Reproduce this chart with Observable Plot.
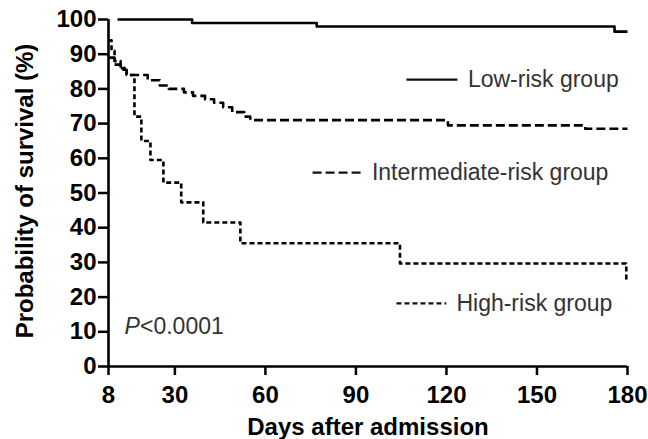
<!DOCTYPE html>
<html>
<head>
<meta charset="utf-8">
<script src="https://cdn.jsdelivr.net/npm/d3@7"></script>
<script src="https://cdn.jsdelivr.net/npm/@observablehq/plot@0.6"></script>
<style>
  html, body { margin: 0; padding: 0; background: #fff; }
  #chart { width: 648px; height: 439px; }
</style>
</head>
<body>
<div id="chart"></div>
<script>
// ---- Data ----
const xTicks = [8, 30, 60, 90, 120, 150, 180];
const yTicks = [0, 10, 20, 30, 40, 50, 60, 70, 80, 90, 100];

const lowDays = [11, 35.7, 77, 175.7, 180];
const lowSurv = [100, 99, 98, 96.5, 96.5];

const midDays = [8, 10, 12, 14, 21, 25, 28, 33, 36, 40, 43, 46, 49, 53, 55, 120.5, 166, 180];
const midSurv = [89, 87, 85.5, 84, 82.5, 81, 80, 79, 78, 77, 76, 74.7, 73.3, 72, 71, 69.5, 68.5, 68.5];

const highDays = [8, 9, 10, 12, 14, 16.6, 18.9, 21.9, 26.2, 32.1, 39.4, 51.7, 104.6, 179.6];
const highSurv = [94, 91, 88, 86, 84, 72, 65, 59.5, 53, 47.3, 41.5, 35.5, 29.7, 24.3];

const groupNames = ["Low-risk group", "Intermediate-risk group", "High-risk group"];
const pText = ["P", "<0.0001"];

// ---- Layout / style constants ----
const dashes = [null, "9,4", "5,3"];
const legendLayout = [
  {x1: 106.9, x2: 123.8, y: 82.7, tx: 127.1},
  {x1: 75.8,  x2: 93.0,  y: 55.9, tx: 95.3},
  {x1: 103.6, x2: 120.1, y: 18.2, tx: 123.3}
];

const toRows = (days, surv) => days.map((d, i) => ({day: d, surv: surv[i]}));
const series = [toRows(lowDays, lowSurv), toRows(midDays, midSurv), toRows(highDays, highSurv)];
const legendRows = groupNames.map((name, i) => ({name, dash: dashes[i], ...legendLayout[i]}));

const font = "'Liberation Sans', Arial, Helvetica, sans-serif";

const curveMarks = series.map((rows, i) =>
  Plot.line(rows, {x: "day", y: "surv", curve: "step-after", stroke: "#000",
    strokeWidth: 2.6, strokeDasharray: dashes[i] || undefined, strokeLinecap: "butt"}));

const legendMarks = legendRows.flatMap(r => [
  Plot.ruleY([r], {y: "y", x1: "x1", x2: "x2", stroke: "#111", strokeWidth: 2.2,
    strokeDasharray: r.dash || undefined}),
  Plot.text([r], {x: "tx", y: "y", text: "name", textAnchor: "start", lineAnchor: "middle",
    fontSize: 23, fontWeight: "normal", fill: "#333", fontFamily: font})
]);

const chart = Plot.plot({
  width: 648,
  height: 439,
  marginLeft: 108,
  marginRight: 21,
  marginTop: 19,
  marginBottom: 73,
  style: {fontFamily: font, background: "#fff", color: "#000", overflow: "visible"},
  x: {domain: [8, 180]},
  y: {domain: [0, 100]},
  marks: [
    Plot.axisX({ticks: xTicks, tickSize: 9, tickPadding: 10, strokeWidth: 2.5,
      fontSize: 24, fontWeight: "bold", label: null}),
    Plot.axisY({ticks: yTicks, tickSize: 10, tickPadding: 2, strokeWidth: 2.5,
      fontSize: 24, fontWeight: "bold", label: null}),
    Plot.ruleX([8], {y1: 0, y2: 100, strokeWidth: 2.6}),
    Plot.ruleY([0], {x1: 8, x2: 180, strokeWidth: 2.6}),
    ...curveMarks,
    ...legendMarks,
    Plot.text([pText[0]], {x: 13.3, y: 11.4, text: d => d, textAnchor: "start", lineAnchor: "middle",
      fontSize: 23, fontStyle: "italic", fontWeight: "normal", fill: "#333"}),
    Plot.text([pText[1]], {x: 13.3, y: 11.4, dx: 15.5, text: d => d, textAnchor: "start", lineAnchor: "middle",
      fontSize: 23, fontWeight: "normal", fill: "#333"}),
    Plot.text(["Days after admission"], {frameAnchor: "bottom", dy: 68, text: d => d,
      textAnchor: "middle", lineAnchor: "bottom", fontSize: 24, fontWeight: "bold"}),
    Plot.text(["Probability of survival (%)"], {frameAnchor: "left", dx: -76, dy: -2, text: d => d,
      rotate: -90, textAnchor: "middle", lineAnchor: "bottom", fontSize: 24, fontWeight: "bold"})
  ]
});
document.getElementById("chart").appendChild(chart);
</script>
</body>
</html>
